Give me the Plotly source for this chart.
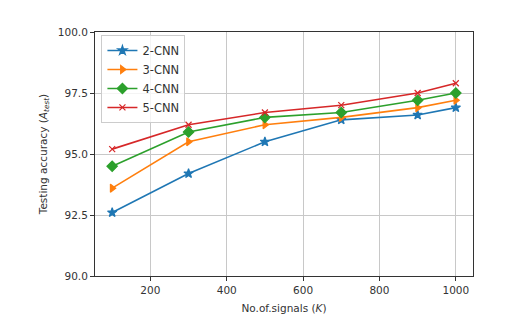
import plotly.graph_objects as go

signals = [100, 300, 500, 700, 900, 1000]
acc_2cnn = [92.6, 94.2, 95.5, 96.4, 96.6, 96.9]
acc_3cnn = [93.6, 95.5, 96.2, 96.5, 96.9, 97.2]
acc_4cnn = [94.5, 95.9, 96.5, 96.7, 97.2, 97.5]
acc_5cnn = [95.2, 96.2, 96.7, 97.0, 97.5, 97.9]
y_ticks = [90.0, 92.5, 95.0, 97.5, 100.0]

series = [
    ("2-CNN", acc_2cnn, "#1f77b4", "star", 7),
    ("3-CNN", acc_3cnn, "#ff7f0e", "triangle-right", 7),
    ("4-CNN", acc_4cnn, "#2ca02c", "diamond", 8),
    ("5-CNN", acc_5cnn, "#d62728", "x-thin-open", 6),
]

fig = go.Figure()
for name, ys, color, sym, size in series:
    fig.add_trace(go.Scatter(
        x=signals, y=ys, name=name, mode="lines+markers",
        line={"color": color, "width": 1.6},
        marker={"symbol": sym, "size": size, "color": color,
                "line": {"color": color, "width": 1.2}},
    ))

axis = dict(showline=True, linecolor="#333", linewidth=1, mirror=True,
            ticks="outside", ticklen=4, tickcolor="#333",
            showgrid=True, gridcolor="#c8c8c8", gridwidth=1, zeroline=False,
            tickfont={"size": 10.5, "color": "#333"})

# page body adds an 8px offset, so margins are trimmed by that on top/left
fig.update_layout(
    width=516, height=320, paper_bgcolor="white", plot_bgcolor="white",
    font={"family": "DejaVu Sans", "size": 10, "color": "#333"},
    margin={"l": 87, "r": 51, "t": 24, "b": 52},
    legend={"x": 0.017, "y": 0.988, "xanchor": "left", "yanchor": "top",
            "bgcolor": "rgba(255,255,255,0.8)", "bordercolor": "#ccc",
            "borderwidth": 1, "font": {"size": 11.5}, "tracegroupgap": 0},
    xaxis=dict(axis, range=[55, 1045], tickvals=[200, 400, 600, 800, 1000],
               title={"text": "No.of.signals (<i>K</i>)", "font": {"size": 10.5}, "standoff": 10}),
    yaxis=dict(axis, range=[90, 100], tickvals=y_ticks,
               ticktext=[f"{v:.1f}" for v in y_ticks],
               title={"text": "Testing accuracy (<i>A<sub>test</sub></i>)", "font": {"size": 10.5}, "standoff": 8}),
)

fig.write_html("out.html")
